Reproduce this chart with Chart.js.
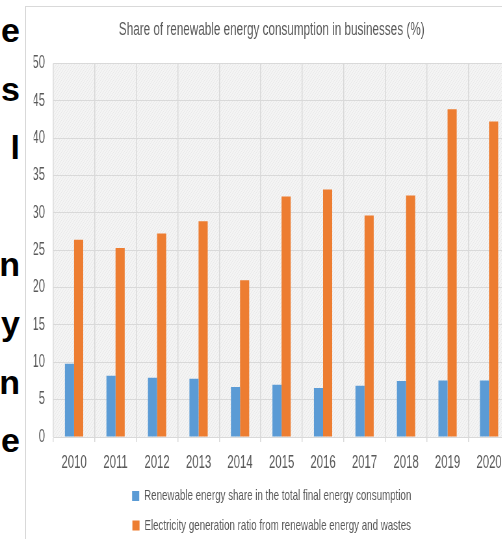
<!DOCTYPE html>
<html>
<head>
<meta charset="utf-8">
<script src="https://cdn.jsdelivr.net/npm/chart.js@4.4.1/dist/chart.umd.min.js"></script>
<style>
  html, body { margin: 0; padding: 0; background: #ffffff; }
  body { width: 502px; height: 539px; position: relative; overflow: hidden; }
  #margin-text {
    position: absolute; left: -200px; top: 1px; width: 220px;
    text-align: right; font-family: "Liberation Sans", Arial, sans-serif;
    font-weight: bold; font-size: 34px; line-height: 58.6px; color: #000;
    white-space: pre;
  }
  #frame {
    position: absolute; left: 25px; top: 6px; width: 600px; height: 600px;
    border-left: 1px solid #d9d9d9; border-top: 1px solid #d9d9d9; background: #fff;
  }
  #squeeze {
    position: absolute; left: 0; top: 0; width: 760px; height: 541px;
    transform: scaleX(0.65); transform-origin: 0 0;
  }
  canvas { display: block; }
</style>
</head>
<body>
<div id="margin-text">e
s
l

n
y
n
e</div>
<div id="frame">
  <div id="squeeze"><canvas id="chart" width="760" height="541" style="width:760px;height:541px"></canvas></div>
</div>
<script>
const chartTitle = 'Share of renewable energy consumption in businesses (%)';
const years = ['2010', '2011', '2012', '2013', '2014', '2015', '2016', '2017', '2018', '2019', '2020'];
const seriesNames = [
  'Renewable energy share in the total final energy consumption',
  'Electricity generation ratio from renewable energy and wastes'
];
const renewableShare = [9.8, 8.2, 7.95, 7.8, 6.7, 7.0, 6.55, 6.85, 7.5, 7.55, 7.55];
const electricityRatio = [26.4, 25.3, 27.25, 28.9, 21.0, 32.2, 33.15, 29.65, 32.35, 43.9, 42.25];

const textGrey = '#595959';
const gridGrey = '#d9d9d9';
const fontFamily = '"Liberation Sans", Arial, sans-serif';

// Fine hatched fill for the plotting area
function makeHatch() {
  const c = document.createElement('canvas');
  c.width = 4; c.height = 4;
  const g = c.getContext('2d');
  g.fillStyle = '#f4f4f4';
  g.fillRect(0, 0, 4, 4);
  g.fillStyle = '#e9e9e9';
  for (let i = 0; i < 4; i++) g.fillRect(i, 3 - i, 1, 1);
  return g.createPattern(c, 'repeat');
}

const plotBackground = {
  id: 'plotBackground',
  beforeDraw(chart) {
    const { ctx, chartArea: a } = chart;
    ctx.save();
    ctx.fillStyle = makeHatch();
    ctx.fillRect(a.left, a.top, a.right - a.left, a.bottom - a.top);
    ctx.restore();
  }
};

new Chart(document.getElementById('chart'), {
  type: 'bar',
  data: {
    labels: years,
    datasets: [
      { label: seriesNames[0], data: renewableShare, backgroundColor: '#5b9bd5' },
      { label: seriesNames[1], data: electricityRatio, backgroundColor: '#ed7d31' }
    ]
  },
  options: {
    responsive: false,
    animation: false,
    layout: { padding: { left: 11.7, right: 15.7, top: 0, bottom: 5 } },
    datasets: { bar: { categoryPercentage: 0.44, barPercentage: 1.0, borderWidth: 0 } },
    scales: {
      x: {
        grid: { color: gridGrey, lineWidth: 1.5, offset: true, drawTicks: true, tickLength: 5 },
        border: { color: gridGrey, width: 1 },
        ticks: { color: textGrey, padding: 10.5, font: { family: fontFamily, size: 17.5 } },
        afterFit(scale) { scale.height = 37; }
      },
      y: {
        min: 0, max: 50,
        grid: { color: gridGrey, lineWidth: 1, drawTicks: false },
        border: { display: false },
        ticks: { stepSize: 5, color: textGrey, padding: 12.8, font: { family: fontFamily, size: 17.5 } },
        afterFit(scale) { scale.width = 30.3; }
      }
    },
    plugins: {
      title: {
        display: true, text: chartTitle, color: textGrey,
        font: { family: fontFamily, size: 18, weight: 'normal' },
        padding: { top: 12, bottom: 23 }
      },
      legend: {
        position: 'bottom',
        labels: {
          color: textGrey, boxWidth: 11, boxHeight: 10, padding: 14.5,
          font: { family: fontFamily, size: 15 }
        }
      },
      tooltip: { enabled: false }
    }
  },
  plugins: [plotBackground]
});
</script>
</body>
</html>
